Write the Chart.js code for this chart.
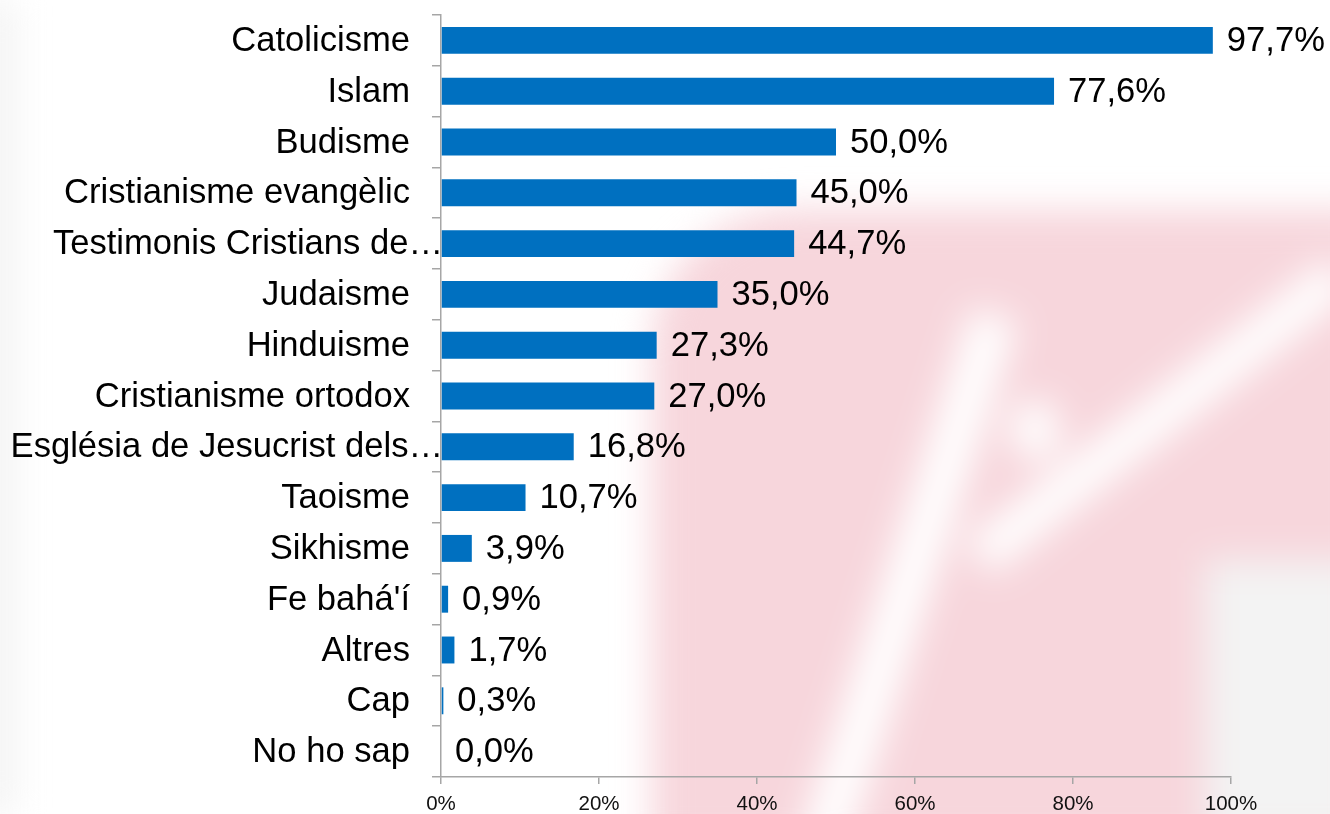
<!DOCTYPE html>
<html>
<head>
<meta charset="utf-8">
<title>Religions</title>
<script src="https://cdn.jsdelivr.net/npm/chart.js@4/dist/chart.umd.min.js"></script>
<style>
    html, body { margin: 0; padding: 0; background: #fff; }
    #wrap { position: relative; width: 1330px; height: 814px; overflow: hidden; background: #fff; }
    canvas { position: absolute; left: 0; top: 0; }
    /* faint blurred watermark behind the chart */
    #wm { position: absolute; left: 0; top: 0; width: 1330px; height: 814px; filter: blur(18px); }
    #wm div { position: absolute; }
    .pink { background: rgb(247, 214, 220); }
    .white { background: #fff; }
    .grey { background: rgb(243, 243, 243); }
</style>
</head>
<body>
<div id="wrap">
    <div id="wm">
        <div class="grey" style="left:-20px; top:0; width:36px; height:814px;"></div>
        <div class="pink" style="left:652px; top:210px; width:720px; height:640px; border-radius:140px 0 0 0;"></div>
        <div class="white" style="left:875px; top:300px; width:48px; height:620px; transform: rotate(18deg);"></div>
        <div class="white" style="left:930px; top:395px; width:460px; height:42px; transform: rotate(-38deg);"></div>
        <div class="white" style="left:1010px; top:400px; width:50px; height:60px; border-radius:50%;"></div>
        <div class="grey" style="left:1205px; top:560px; width:160px; height:280px;"></div>
    </div>
    <canvas id="chart" width="1330" height="814"></canvas>
</div>
<script>
var categories = [
    'Catolicisme',
    'Islam',
    'Budisme',
    'Cristianisme evangèlic',
    'Testimonis Cristians de…',
    'Judaisme',
    'Hinduisme',
    'Cristianisme ortodox',
    'Església de Jesucrist dels…',
    'Taoisme',
    'Sikhisme',
    'Fe bahá\'í',
    'Altres',
    'Cap',
    'No ho sap'
];
var values = [97.7, 77.6, 50.0, 45.0, 44.7, 35.0, 27.3, 27.0, 16.8, 10.7, 3.9, 0.9, 1.7, 0.3, 0.0];
var tickValues = [0, 20, 40, 60, 80, 100];
var tickLabels = ['0%', '20%', '40%', '60%', '80%', '100%'];

var labelFont = '34.6px "Liberation Sans", Arial, sans-serif';

//Category labels: right aligned, truncated ones run up to the axis
var categoryLabels = {
    id: 'categoryLabels',
    afterDraw: function (chart) {
        var ctx = chart.ctx;
        var yScale = chart.scales.y;
        ctx.save();
        ctx.font = labelFont;
        ctx.fillStyle = '#000';
        ctx.textAlign = 'right';
        ctx.textBaseline = 'middle';
        categories.forEach(function (text, i) {
            var y = yScale.getPixelForValue(i);
            var right = text.slice(-1) === '…' ? yScale.right + 2 : yScale.right - 31;
            ctx.fillText(text, right, y + 1);
        });
        ctx.restore();
    }
};

//Value labels at the end of every bar
var valueLabels = {
    id: 'valueLabels',
    afterDatasetsDraw: function (chart) {
        var ctx = chart.ctx;
        var meta = chart.getDatasetMeta(0);
        ctx.save();
        ctx.font = labelFont;
        ctx.fillStyle = '#000';
        ctx.textAlign = 'left';
        ctx.textBaseline = 'middle';
        meta.data.forEach(function (bar, i) {
            var text = values[i].toFixed(1).replace('.', ',') + '%';
            ctx.fillText(text, bar.x + 14, bar.y + 1);
        });
        ctx.restore();
    }
};

new Chart(document.getElementById('chart'), {
    type: 'bar',
    data: {
        labels: categories,
        datasets: [{
            data: values,
            backgroundColor: '#0070C0',
            barPercentage: 0.53,
            categoryPercentage: 1
        }]
    },
    options: {
        indexAxis: 'y',
        responsive: false,
        animation: false,
        layout: { padding: { top: 15, right: 99, bottom: 0, left: 0 } },
        plugins: {
            legend: { display: false },
            tooltip: { enabled: false }
        },
        scales: {
            x: {
                min: 0,
                max: 100,
                afterFit: function (scale) { scale.height = 37; },
                afterBuildTicks: function (scale) {
                    scale.ticks = tickValues.map(function (v) { return { value: v }; });
                },
                border: { color: '#a6a6a6', width: 1.5 },
                grid: { drawOnChartArea: false, drawTicks: true, tickLength: 7, color: '#a6a6a6', lineWidth: 1.5 },
                ticks: {
                    color: '#111',
                    padding: 8,
                    maxRotation: 0,
                    font: { family: '"Liberation Sans", Arial', size: 20.5 },
                    callback: function (value) {
                        return tickLabels[tickValues.indexOf(value)];
                    }
                }
            },
            y: {
                afterFit: function (scale) { scale.width = 441; },
                border: { color: '#a6a6a6', width: 1.5 },
                grid: { drawOnChartArea: false, drawTicks: true, tickLength: 9, color: '#a6a6a6', lineWidth: 1.5 },
                ticks: { display: false }
            }
        }
    },
    plugins: [categoryLabels, valueLabels]
});
</script>
</body>
</html>
